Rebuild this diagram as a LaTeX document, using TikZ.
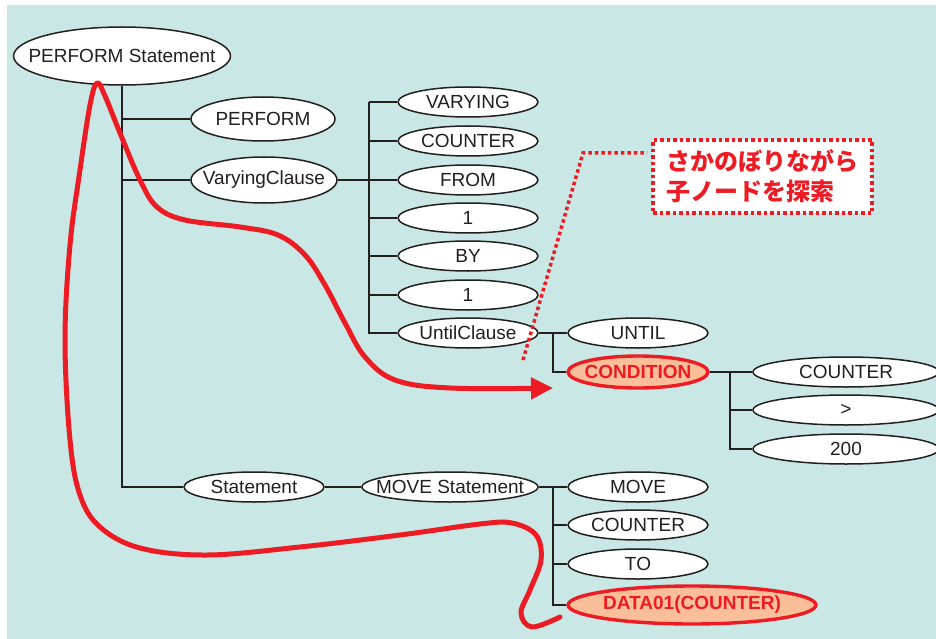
\documentclass[tikz,border=0pt]{standalone}
\usepackage{fontspec}
\setmainfont{Liberation Sans}
\newfontfamily\cjk{Noto Sans CJK JP}
\usetikzlibrary{shapes.geometric,arrows.meta}
\definecolor{bgc}{RGB}{201,232,229}
\definecolor{redc}{RGB}{237,28,36}
\definecolor{salmon}{RGB}{250,190,152}
\definecolor{linec}{RGB}{35,31,32}
\newcommand{\zw}[1]{\makebox[0pt]{#1}}
\tikzset{
  ell/.style={ellipse, draw=linec, line width=1.5pt, fill=white, inner sep=0pt,
    minimum height=30pt, minimum width=140pt, text=linec,
    font=\fontsize{19}{22}\selectfont},
  hl/.style={ell, draw=redc, line width=3.4pt, fill=salmon, text=redc,
    font=\fontsize{19}{22}\selectfont\bfseries},
  tree/.style={line width=1.8pt, draw=linec},
  dotline/.style={draw=redc, line width=3.5pt, dash pattern=on 3.5pt off 3pt},
  callbox/.style={draw=redc, line width=3.5pt, dash pattern=on 3.5pt off 3pt,
    fill=white, minimum width=219pt, minimum height=73pt, inner sep=0pt,
    align=left, text=redc, font=\cjk\bfseries\fontsize{24}{30}\selectfont},
  redcurve/.style={draw=redc, line width=5pt, line cap=round, line join=round},
}
\begin{document}
\begin{tikzpicture}[x=1pt,y=-1pt]
\useasboundingbox (0,0) rectangle (936,639);
\fill[bgc] (7,5) rectangle (936,639);

% nodes
\node[ell, minimum width=217pt, minimum height=58pt] (PS) at (122,56) {\zw{PERFORM Statement}};
\node[ell, minimum width=144pt, minimum height=44pt] (PF) at (263,119) {\zw{PERFORM}};
\node[ell, minimum width=146pt, minimum height=46pt] (VC) at (264,180) {\zw{VaryingClause}};
\node[ell] (VA) at (468,102) {\zw{VARYING}};
\node[ell] (C1) at (468,141) {\zw{COUNTER}};
\node[ell] (FR) at (468,180) {\zw{FROM}};
\node[ell] (O1) at (468,218) {\zw{1}};
\node[ell] (BY) at (468,256) {\zw{BY}};
\node[ell] (O2) at (468,295) {\zw{1}};
\node[ell] (UC) at (468,333) {\zw{UntilClause}};
\node[ell] (UN) at (638,333) {\zw{UNTIL}};
\node[hl, minimum height=32pt] (CO) at (638,372) {\zw{CONDITION}};
\node[ell, minimum width=186pt] (C2) at (846,372) {\zw{COUNTER}};
\node[ell, minimum width=186pt] (GT) at (846,410) {\zw{>}};
\node[ell, minimum width=186pt] (N2) at (846,449) {\zw{200}};
\node[ell] (ST) at (254,487) {\zw{Statement}};
\node[ell, minimum width=176pt] (MS) at (450,487) {\zw{MOVE Statement}};
\node[ell] (MV) at (638,487) {\zw{MOVE}};
\node[ell] (C3) at (638,525) {\zw{COUNTER}};
\node[ell] (TO) at (638,564) {\zw{TO}};
\node[hl, minimum width=248pt, minimum height=38pt] (DA) at (692,605) {\zw{DATA01(COUNTER)}};

% bus coordinates
\coordinate (b0) at (122,0);
\coordinate (b1) at (369,0);
\coordinate (b2) at (553,0);
\coordinate (b3) at (730,0);

% tree connectors
\draw[tree] (PS.south) |- (ST.west);
\draw[tree] (b0 |- PF.west) -- (PF.west);
\draw[tree] (b0 |- VC.west) -- (VC.west);

\draw[tree] (VC.east) -- (b1 |- VC.east);
\draw[tree] (b1 |- VA.west) |- (UC.west);
\foreach \n in {VA,C1,FR,O1,BY,O2} \draw[tree] (b1 |- \n.west) -- (\n.west);

\draw[tree] (UC.east) -- (UN.west);
\draw[tree] (b2 |- UN.west) |- (CO.west);

\draw[tree] (CO.east) -- (C2.west);
\draw[tree] (b3 |- C2.west) |- (N2.west);
\draw[tree] (b3 |- GT.west) -- (GT.west);

\draw[tree] (ST.east) -- (MS.west);
\draw[tree] (MS.east) -- (MV.west);
\draw[tree] (b2 |- MV.west) |- (DA.west);
\draw[tree] (b2 |- C3.west) -- (C3.west);
\draw[tree] (b2 |- TO.west) -- (TO.west);

% callout
\coordinate (cc) at (523,360);
\coordinate (ck) at (583,153);
\draw[dotline] (cc) -- (ck) -- (647,153);
\node[callbox] (CAL) at (762.5,176.5) {さかのぼりながら\\子ノードを探索};

% red trace curve
\draw[redcurve, -{Triangle[length=22pt,width=21pt]}] plot[smooth, tension=0.6] coordinates {
  (560,617) (532,627) (521,613) (530,590) (541,560) (536,535)
  (512,523) (480,524) (400,535) (300,547) (207,555) (140,548) (100,527)
  (80,495) (70,440) (65,340) (70,245) (80,170) (90,105)
  (97,83) (105,96) (120,133) (140,180) (157,207) (185,220)
  (240,227) (278,235) (305,255) (325,285) (345,323) (365,357)
  (395,380) (450,388) (553,388)};
\end{tikzpicture}
\end{document}
